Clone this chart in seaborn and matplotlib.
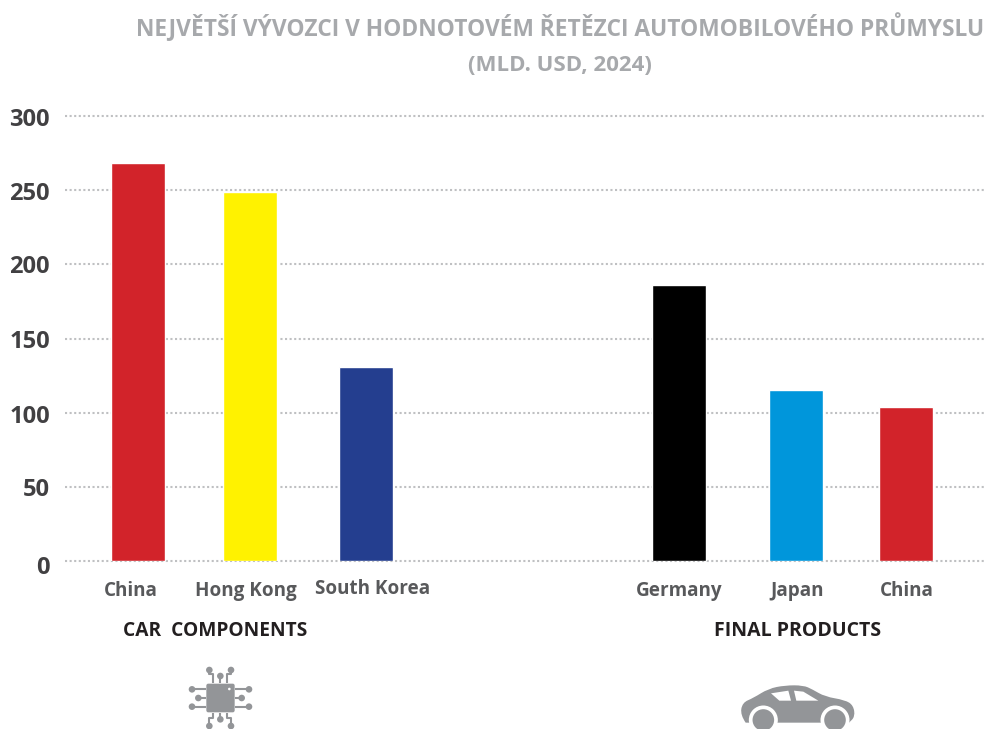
import matplotlib
matplotlib.use("Agg")
import matplotlib.pyplot as plt
import pandas as pd
import seaborn as sns
from matplotlib.patches import Circle, FancyBboxPatch, PathPatch, Polygon
from matplotlib.path import Path
from matplotlib.transforms import ScaledTranslation

# ---- data -------------------------------------------------------------
labels = ["China", "Hong Kong", "South Korea", "Germany", "Japan", "China "]
values = [268, 248.5, 130.5, 186, 115, 103.5]
colors = ["#d2232a", "#fff200", "#243e8f", "#000000", "#0096db", "#d2232a"]
groups = ["CAR  COMPONENTS", "FINAL PRODUCTS"]
title_lines = ["NEJVĚTŠÍ VÝVOZCI V HODNOTOVÉM ŘETĚZCI AUTOMOBILOVÉHO PRŮMYSLU",
               "(MLD. USD, 2024)"]
yticks = [0, 50, 100, 150, 200, 250, 300]
slots = [137.5, 249.5, 365.5, 678.5, 795.5, 905.5]
label_dx = [-7, -4, 7, 1, 2, 1]
label_dy = [0, 0, 2, 0, 0, 0]
ytick_dy = [4, 0, 1, 0, 0, 1, 1]

W, H = 988, 729
FONT = "Open Sans"
DARK = "#58595b"
GREY = "#939598"
PX = 1 / 100  # inches per pixel

sns.set_theme(style="white")
plt.rcParams["font.family"] = [FONT, "DejaVu Sans"]

fig = plt.figure(figsize=(W / 100, H / 100), dpi=100, facecolor="white")
L, R, T, B = 65, 986, 116, 561
ax = fig.add_axes([L / W, 1 - B / H, (R - L) / W, (B - T) / H])

df = pd.DataFrame({"slot": slots, "label": labels, "value": values})
sns.barplot(data=df, x="slot", y="value", hue="label", palette=colors,
            native_scale=True, dodge=False, legend=False, width=54 / 110,
            saturation=1, ax=ax, zorder=3)

ax.set_xlim(L, R)
ax.set_ylim(0, 300)
ax.set_xlabel("")
ax.set_ylabel("")
ax.set_yticks(yticks)
ax.set_yticklabels([str(v) for v in yticks], fontsize=17, fontweight="bold", color="#414042")
ax.tick_params(axis="y", length=0, pad=11)
ax.set_xticks(slots)
ax.set_xticklabels([s.strip() for s in labels], fontsize=13.6, fontweight="bold", color=DARK)
ax.tick_params(axis="x", length=0, pad=14.3)
for t, dx, dy in zip(ax.get_xticklabels(), label_dx, label_dy):
    t.set_transform(t.get_transform() + ScaledTranslation(dx * PX, dy * PX, fig.dpi_scale_trans))
for t, dy in zip(ax.get_yticklabels(), ytick_dy):
    t.set_transform(t.get_transform() + ScaledTranslation(0, -dy * PX, fig.dpi_scale_trans))
for sp in ax.spines.values():
    sp.set_visible(False)
ax.patch.set_alpha(0)
ax.yaxis.grid(True, color="#bfc0c2", linewidth=1.5, linestyle=(0, (1, 1.2)), zorder=0, clip_on=False)
ax.set_axisbelow(True)

# ---- overlay in pixel coordinates --------------------------------------
ov = fig.add_axes([0, 0, 1, 1], zorder=5)
ov.set_xlim(0, W)
ov.set_ylim(H, 0)
ov.axis("off")
ov.patch.set_alpha(0)

ov.text(560, 27.5, title_lines[0], ha="center", va="center", fontsize=16.4,
        fontweight="bold", color="#a7a9ac")
ov.text(560, 65, title_lines[1], ha="center", va="center", fontsize=16,
        fontweight="bold", color="#a7a9ac")
ov.text(215, 630.5, groups[0], ha="center", va="center", fontsize=13.8,
        fontweight="bold", color="#231f20")
ov.text(797.5, 630.5, groups[1], ha="center", va="center", fontsize=14,
        fontweight="bold", color="#231f20")

# chip icon (zoom-crop coordinates -> pixels)
def cz(x, y):
    return 170 + x / 3, 650 + y / 3

ov.add_patch(FancyBboxPatch(cz(112, 104), 79 / 3, 80 / 3, boxstyle="round,pad=1,rounding_size=2",
                            fc=GREY, ec="none"))
ov.add_patch(Circle(cz(178, 117), 1.3, fc="white", ec="none"))
pins = [
    [(118, 60), (118, 72), (130, 72), (130, 100)],
    [(151, 78), (151, 100)],
    [(183, 60), (183, 72), (172, 72), (172, 100)],
    [(118, 228), (118, 205), (130, 205), (130, 188)],
    [(151, 208), (151, 188)],
    [(183, 228), (183, 205), (172, 205), (172, 188)],
    [(66, 118), (108, 118)],
    [(85, 144), (108, 144)],
    [(66, 170), (108, 170)],
    [(237, 118), (195, 118)],
    [(215, 144), (195, 144)],
    [(237, 170), (195, 170)],
]
for pin in pins:
    pts = [cz(*p) for p in pin]
    ov.plot([p[0] for p in pts], [p[1] for p in pts], color=GREY, lw=1.5, solid_capstyle="butt")
    ov.add_patch(Circle(pts[0], 3.3, fc=GREY, ec="none"))

# car icon
def kz(x, y):
    return 725 + x / 3, 670 + y / 3

body = [(62, 158), (46, 135), (52, 98), (85, 84), (130, 56), (180, 46), (235, 46),
        (262, 58), (300, 80), (360, 90), (385, 106), (390, 140), (372, 158)]
verts = [kz(*body[0])]
codes = [Path.MOVETO]
for a, b in zip(body[1:-1], body[2:]):
    mid = ((a[0] + b[0]) / 2, (a[1] + b[1]) / 2)
    verts += [kz(*a), kz(*mid)]
    codes += [Path.CURVE3, Path.CURVE3]
verts += [kz(*body[-1]), kz(*body[0])]
codes += [Path.LINETO, Path.CLOSEPOLY]
ov.add_patch(PathPatch(Path(verts, codes), fc=GREY, ec="none"))
for poly in ([(138, 70), (190, 62), (198, 92), (163, 92)],
             [(207, 62), (235, 65), (280, 92), (214, 92)]):
    ov.add_patch(Polygon([kz(*p) for p in poly], closed=True, fc="white", ec="none"))
for cx in (115, 330):
    ov.add_patch(Circle(kz(cx, 150), 14.5, fc="white", ec="none"))
    ov.add_patch(Circle(kz(cx, 150), 10.8, fc=GREY, ec="none"))

fig.savefig("out.png", dpi=100, facecolor="white")
